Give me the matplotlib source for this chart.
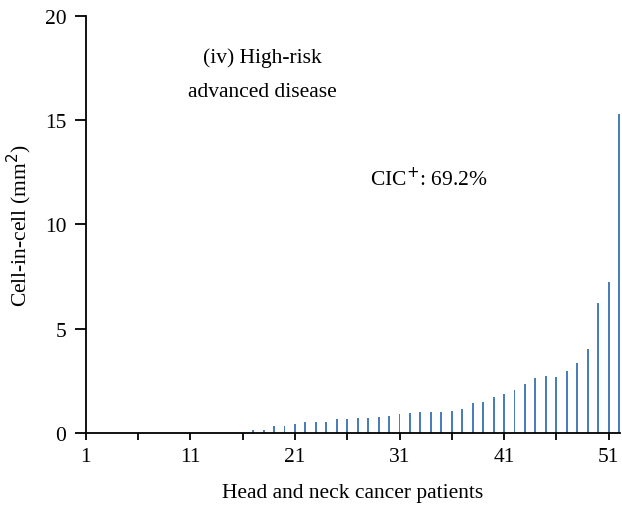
import numpy as np
from matplotlib import pyplot as plt

plt.rcParams['font.family'] = ['Liberation Serif', 'DejaVu Serif']

# cell-in-cell area per patient, sorted
patients = list(range(1, 53))
cic = [0] * 16 + [0.13, 0.13, 0.32, 0.32, 0.42, 0.54, 0.54, 0.54, 0.66, 0.66,
                  0.70, 0.70, 0.75, 0.83, 0.90, 0.94, 0.99, 1.02, 1.02, 1.07,
                  1.14, 1.42, 1.47, 1.74, 1.86, 2.06, 2.35, 2.65, 2.71, 2.70,
                  2.96, 3.36, 4.03, 6.22, 7.23, 15.3]
xticks = list(range(1, 52, 5))
xlabels = [str(t) if (t - 1) % 10 == 0 else '' for t in xticks]
yticks = [0, 5, 10, 15, 20]

fig = plt.figure(figsize=(6.22, 5.10), dpi=100)
ax = fig.add_axes([0.138, 0.149, 0.859, 0.818])

ax.bar(patients, cic, width=0.18, color='#4a7ebb')

ax.set_xlim(1, 52.1)
ax.set_ylim(0, 20)
ax.set_xticks(xticks)
ax.set_xticklabels(xlabels)
ax.set_yticks(yticks)
ax.spines['top'].set_visible(False)
ax.spines['right'].set_visible(False)
for s in ['left', 'bottom']:
    ax.spines[s].set_linewidth(1.3)
ax.tick_params(axis='both', direction='out', width=1.3, labelsize=15.5)
ax.tick_params(axis='x', length=5, pad=5)
ax.tick_params(axis='y', length=8, pad=6)

ax.set_xlabel('Head and neck cancer patients', fontsize=15.5, labelpad=12)
ax.set_ylabel('Cell-in-cell (mm$^2$)', fontsize=15.5, labelpad=8)

ax.text(17.9, 18.0, '(iv) High-risk', fontsize=15.5, ha='center', va='center')
ax.text(17.9, 16.35, 'advanced disease', fontsize=15.5, ha='center', va='center')
ax.text(33.8, 12.2, 'CIC$^{+}$: 69.2%', fontsize=15.5, ha='center', va='center')

plt.savefig('out.png', dpi=100)
